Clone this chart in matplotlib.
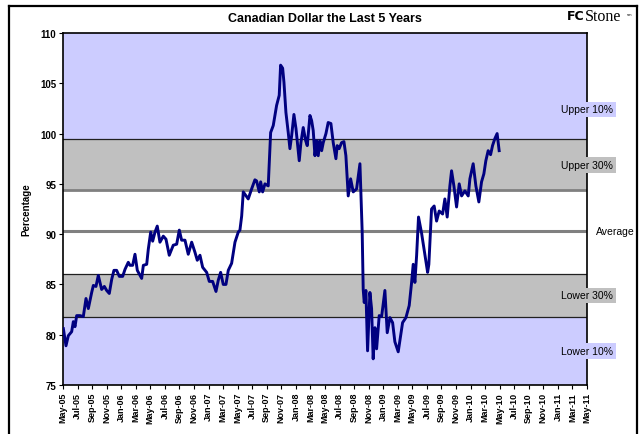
import matplotlib
matplotlib.use("Agg")
import matplotlib.pyplot as plt
from matplotlib.lines import Line2D
import numpy as np

plt.rcParams["font.family"] = ["Liberation Sans", "DejaVu Sans"]

# months since May-05 and the CAD value
MONTHS = [
    0.05, 0.41, 0.73, 1.19, 1.42, 1.65, 1.88, 2.34, 2.79, 3.16, 3.48, 3.94, 4.17, 4.53, 4.85,
    5.31, 5.68, 6.0, 6.36, 6.69, 7.0, 7.37, 7.74, 8.2, 8.52, 8.97, 9.2, 9.57, 9.89, 10.21,
    10.58, 10.81, 11.04, 11.5, 11.72, 12.05, 12.32, 12.64, 12.95, 13.32, 13.78, 14.15, 14.6,
    15.15, 15.62, 15.98, 16.3, 16.76, 17.21, 17.68, 18.13, 18.45, 18.82, 19.19, 19.74, 20.1,
    20.56, 21.02, 21.33, 21.66, 22.02, 22.39, 22.71, 23.17, 23.63, 24.08, 24.31, 24.55,
    24.77, 25.45, 25.92, 26.37, 26.6, 26.97, 27.16, 27.43, 27.75, 28.2, 28.53, 28.89, 29.35,
    29.71, 29.9, 30.18, 30.36, 30.63, 30.95, 31.18, 31.42, 31.73, 32.01, 32.46, 32.69, 33.01,
    33.34, 33.56, 33.93, 34.16, 34.38, 34.62, 34.85, 35.07, 35.3, 35.54, 35.76, 36.13, 36.44,
    36.81, 37.13, 37.5, 37.68, 37.95, 38.28, 38.6, 38.87, 39.19, 39.52, 39.88, 40.34, 40.8,
    41.11, 41.25, 41.39, 41.62, 41.85, 42.17, 42.4, 42.62, 42.86, 43.09, 43.45, 43.78, 44.23,
    44.55, 44.92, 45.29, 45.6, 46.06, 46.39, 46.66, 47.12, 47.57, 47.9, 48.12, 48.35, 48.59,
    48.85, 49.27, 49.73, 50.1, 50.27, 50.64, 51.0, 51.33, 51.69, 52.16, 52.47, 52.79, 53.16,
    53.39, 53.71, 54.08, 54.44, 54.77, 55.22, 55.68, 55.91, 56.36, 56.73, 57.14, 57.51, 57.83,
    58.1, 58.42, 58.75, 59.02, 59.34, 59.65, 59.93,
]
VALUES = [
    80.6, 78.9, 79.9, 80.3, 81.3, 80.8, 81.9, 81.9, 81.8, 83.6, 82.6, 84.2, 84.9, 84.8, 85.9,
    84.5, 84.8, 84.4, 84.1, 85.5, 86.4, 86.4, 85.8, 85.8, 86.5, 87.2, 86.9, 86.9, 88.0, 86.4,
    85.9, 85.6, 86.9, 87.0, 88.5, 90.2, 89.3, 90.2, 90.8, 89.2, 89.8, 89.5, 87.9,
    88.9, 89.0, 90.4, 89.4, 89.4, 88.0, 89.2, 88.2, 87.4, 87.9, 86.7, 86.2, 85.3,
    85.3, 84.3, 85.4, 86.2, 85.0, 85.0, 86.4, 87.1, 89.2, 90.2, 90.4, 91.8,
    94.2, 93.5, 94.5, 95.4, 95.3, 94.2, 95.2, 94.2, 95.0, 94.8, 100.1, 100.8, 102.8,
    103.8, 106.8, 106.5, 105.1, 102.1, 100.1, 98.5, 99.8, 101.9, 100.5, 97.3, 99.1, 100.6,
    99.3, 98.8, 101.8, 101.3, 100.3, 97.8, 99.3, 97.8, 99.3, 98.3, 99.1, 100.0, 101.1,
    101.0, 99.1, 97.5, 98.8, 98.5, 99.1, 99.2, 97.8, 93.8, 95.5, 94.2, 94.5, 97.0,
    90.2, 84.5, 83.2, 84.4, 78.4, 84.2, 82.6, 77.6, 80.7, 78.6, 81.9, 81.8, 84.4,
    80.2, 81.7, 81.2, 79.3, 78.3, 79.9, 81.2, 81.7, 82.9, 85.2, 87.0, 85.2, 87.9,
    91.7, 90.1, 87.9, 86.2, 87.0, 92.5, 92.8, 91.3, 92.3, 92.0, 93.5, 91.7, 94.8,
    96.3, 94.8, 92.7, 95.0, 93.8, 94.3, 93.8, 95.5, 97.0, 94.8, 93.2, 95.2, 96.0,
    97.3, 98.3, 97.9, 98.8, 99.5, 100.0, 98.3,
]

UPPER_10 = 99.46
UPPER_30 = 94.4
AVERAGE = 90.35
LOWER_30 = 86.0
LOWER_10 = 81.73

MONTH_NAMES = ["Jan", "Feb", "Mar", "Apr", "May", "Jun", "Jul", "Aug", "Sep", "Oct", "Nov", "Dec"]
TICK_MONTHS = list(range(0, 73, 2))
TICK_LABELS = [f"{MONTH_NAMES[(4 + m) % 12]}-{(5 + (4 + m) // 12):02d}" for m in TICK_MONTHS]

LAVENDER = "#CCCCFF"
GREY = "#C0C0C0"

fig = plt.figure(figsize=(6.43, 4.35), dpi=100)
W, H = 643, 435
ax = fig.add_axes([63 / W, 1 - 386 / H, 524 / W, 352 / H])
ax.set_facecolor(LAVENDER)

ax.axhspan(UPPER_30, UPPER_10, color=GREY, lw=0)
ax.axhspan(LOWER_30, UPPER_30, color="white", lw=0)
ax.axhspan(LOWER_10, LOWER_30, color=GREY, lw=0)
ax.axhline(UPPER_10, color="#202020", lw=0.9)
ax.axhline(UPPER_30, color="#808080", lw=2.0)
ax.axhline(AVERAGE, color="#808080", lw=2.2)
ax.axhline(LOWER_30, color="#202020", lw=0.9)
ax.axhline(LOWER_10, color="#202020", lw=0.9)

ax.plot(MONTHS, VALUES, color="#000080", lw=2.1, solid_joinstyle="round", zorder=5)

ax.set_xlim(0, 72)
ax.set_ylim(75, 110)
ax.set_yticks(range(75, 111, 5))
ax.set_xticks(TICK_MONTHS)
ax.set_xticklabels(TICK_LABELS, rotation=90, fontsize=6.5, fontweight="bold")
for lab in ax.get_yticklabels():
    lab.set_fontsize(7)
    lab.set_fontweight("bold")
ax.tick_params(axis="both", direction="out", length=3, width=0.8, pad=2)
ax.set_ylabel("Percentage", fontsize=7, fontweight="bold", labelpad=6)
for sp in ax.spines.values():
    sp.set_linewidth(1.2)

# band labels sitting on the right edge
label_kw = dict(transform=ax.get_yaxis_transform(), fontsize=7.5, ha="center", va="center",
                clip_on=False, zorder=6)
ax.text(1.0, 102.4, "Upper 10%", bbox=dict(fc=LAVENDER, ec="none", pad=2), **label_kw)
ax.text(1.0, 96.9, "Upper 30%", bbox=dict(fc=GREY, ec="none", pad=2), **label_kw)
ax.text(1.055, AVERAGE, "Average", **label_kw)
ax.text(1.0, 83.9, "Lower 30%", bbox=dict(fc=GREY, ec="none", pad=2), **label_kw)
ax.text(1.0, 78.4, "Lower 10%", bbox=dict(fc=LAVENDER, ec="none", pad=2), **label_kw)

fig.text(325 / W, 1 - 19 / H, "Canadian Dollar the Last 5 Years", ha="center", va="center",
         fontsize=9, fontweight="bold")
fig.text(585 / W, 1 - 17 / H, "FC", ha="right", va="center", fontsize=9, fontweight="heavy",
         family="DejaVu Sans")
fig.text(585 / W, 1 - 17 / H, "Stone", ha="left", va="center", fontsize=11.5,
         family="Liberation Serif")
fig.text(627 / W, 1 - 15 / H, "sm", ha="left", va="center", fontsize=3)

# outer chart frame (bottom edge falls outside the image)
for xs, ys in [((9 / W, 9 / W), (0, 1 - 7 / H)), ((9 / W, 637 / W), (1 - 7 / H, 1 - 7 / H)),
               ((637 / W, 637 / W), (0, 1 - 7 / H))]:
    fig.add_artist(Line2D(xs, ys, color="black", lw=1.6, transform=fig.transFigure))

fig.savefig("out.png", dpi=100)
